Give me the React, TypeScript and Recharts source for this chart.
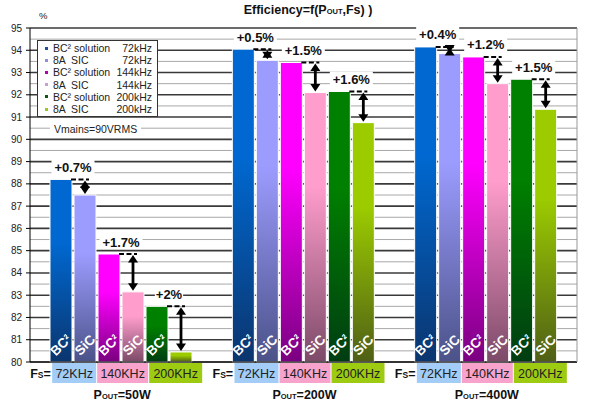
import { Bar, BarChart, CartesianGrid, Customized, LabelList, Legend, XAxis, YAxis } from 'recharts';

const FONT = 'Arial, "Liberation Sans", sans-serif';

// values
const powers = ['50W', '200W', '400W'];
const freqTags = ['72KHz', '140KHz', '200KHz'];
const freqColors = ['#a3cdf6', '#f7a3cc', '#9ccb12'];
const bc72 = [88.2, 94.05, 94.15];
const sic72 = [87.5, 93.55, 93.85];
const bc144 = [84.85, 93.45, 93.7];
const sic144 = [83.15, 92.1, 92.5];
const bc200 = [82.5, 92.15, 92.7];
const sic200 = [80.45, 90.75, 91.35];
const gain72 = ['+0.7%', '+0.5%', '+0.4%'];
const gain144 = ['+1.7%', '+1.5%', '+1.2%'];
const gain200 = ['+2%', '+1.6%', '+1.5%'];
const yTicks = [80, 80.5, 81, 81.5, 82, 82.5, 83, 83.5, 84, 84.5, 85, 85.5, 86, 86.5, 87, 87.5, 88, 88.5, 89, 89.5, 90, 90.5, 91, 91.5, 92, 92.5, 93, 93.5, 94, 94.5, 95];

type Series = {
  key: string;
  name: string;
  freq: string;
  tag: string;
  top: string;
  bottom: string;
  marker: string;
  refValues?: number[];
  gains?: string[];
};

const SERIES: Series[] = [
  { key: 'bc72', name: 'BC² solution', freq: '72kHz', tag: 'BC²', top: '#0068d0', bottom: '#0b356e', marker: '#1f4fa0' },
  { key: 'sic72', name: '8A  SIC', freq: '72kHz', tag: 'SiC', top: '#9c9cff', bottom: '#4b5288', marker: '#8f8fd8', refValues: bc72, gains: gain72 },
  { key: 'bc144', name: 'BC² solution', freq: '144kHz', tag: 'BC²', top: '#ff00ff', bottom: '#7a0080', marker: '#b000b0' },
  { key: 'sic144', name: '8A  SIC', freq: '144kHz', tag: 'SiC', top: '#ff9dcc', bottom: '#7c4a68', marker: '#c8a0d0', refValues: bc144, gains: gain144 },
  { key: 'bc200', name: 'BC² solution', freq: '200kHz', tag: 'BC²', top: '#008000', bottom: '#003d12', marker: '#0a5a0a' },
  { key: 'sic200', name: '8A  SIC', freq: '200kHz', tag: 'SiC', top: '#9ccc00', bottom: '#4f5f16', marker: '#9ac820', refValues: bc200, gains: gain200 },
];

const data = powers.map((p, i) => ({
  name: p,
  bc72: bc72[i],
  sic72: sic72[i],
  bc144: bc144[i],
  sic144: sic144[i],
  bc200: bc200[i],
  sic200: sic200[i],
}));

function box(p: any) {
  const v = p.viewBox ?? {};
  return { x: p.x ?? v.x, y: p.y ?? v.y, width: p.width ?? v.width, height: p.height ?? v.height };
}

function BarTag(props: any) {
  const { x, y, width, height } = box(props);
  const cx = x + width / 2;
  const ty = y + height - 17;
  const id = `clip-${props.sid}-${props.index}`;
  return (
    <g>
      <defs>
        <clipPath id={id}>
          <rect x={x} y={y} width={width} height={height} />
        </clipPath>
      </defs>
      <text
        clipPath={`url(#${id})`}
        x={cx}
        y={ty}
        transform={`rotate(-45 ${cx} ${ty})`}
        textAnchor="middle"
        dominantBaseline="central"
        fill="#fff"
        fontFamily={FONT}
        fontSize={13.5}
        fontWeight="bold"
      >
        {props.tag}
      </text>
    </g>
  );
}

function Gain(props: any) {
  const { x, y, width, height } = box(props);
  const value = Number(props.value);
  const bottom = y + height;
  const ppu = height / (value - 80);
  const yRef = bottom - (props.refValues[props.index] - 80) * ppu;
  const cx = x + width / 2;
  const text = props.gains[props.index];
  const tw = text.length * 7.4 + 6;
  const lx = x - 1;
  const ly = yRef - 12;
  return (
    <g>
      <rect x={lx - tw / 2} y={ly - 8} width={tw} height={15} fill="#fff" />
      <text x={lx} y={ly + 4.5} textAnchor="middle" fontFamily={FONT} fontSize={13} fontWeight="bold" fill="#111">
        {text}
      </text>
      <line x1={x - 3} x2={cx + 4} y1={yRef} y2={yRef} stroke="#000" strokeWidth={2} strokeDasharray="5 2.5" />
      <line x1={cx} x2={cx} y1={yRef + 5} y2={y - 5} stroke="#000" strokeWidth={2.8} />
      <polygon points={`${cx},${yRef + 1} ${cx - 5},${yRef + 8.5} ${cx + 5},${yRef + 8.5}`} fill="#000" />
      <polygon points={`${cx},${y - 1} ${cx - 5},${y - 8.5} ${cx + 5},${y - 8.5}`} fill="#000" />
    </g>
  );
}

function YTick({ x, y, payload }: any) {
  if (payload.value % 1 !== 0) return <g />;
  return (
    <g>
      <line x1={x - 4} x2={x} y1={y} y2={y} stroke="#000" />
      <text x={x - 8} y={y + 3.5} textAnchor="end" fontFamily={FONT} fontSize={10} fill="#222">
        {payload.value}
      </text>
    </g>
  );
}

function XTick({ x, y, payload }: any) {
  const spans = [
    [-69, 44],
    [-24, 51],
    [28, 53],
  ];
  return (
    <g fontFamily={FONT}>
      <text x={x - 91} y={y + 16} fontSize={12.5} fontWeight="bold" fill="#111">
        F<tspan fontSize={8.5}>S</tspan>=
      </text>
      {spans.map(([dx, w], i) => (
        <g key={freqTags[i]}>
          <rect x={x + dx} y={y + 1} width={w} height={20} fill={freqColors[i]} />
          <text x={x + dx + w / 2} y={y + 16} textAnchor="middle" fontSize={12.5} fill="#222">
            {freqTags[i]}
          </text>
        </g>
      ))}
      <text x={x + 1} y={y + 37} textAnchor="middle" fontSize={12.5} fontWeight="bold" fill="#111">
        P<tspan fontSize={7.5}>OUT</tspan>={payload.value}
      </text>
    </g>
  );
}

function GridLine(props: any) {
  const major = props.index % 2 === 0;
  return (
    <line
      x1={props.x1}
      x2={props.x2}
      y1={props.y1}
      y2={props.y2}
      stroke={major ? '#3a3a3a' : '#a8a8a8'}
      strokeWidth={major ? 1.6 : 1}
    />
  );
}

function LegendBox() {
  return (
    <div style={{ position: 'relative', fontFamily: FONT, fontSize: 10.5, color: '#222', lineHeight: '12px' }}>
      <div style={{ position: 'relative', width: 119, height: 75, border: '1px solid #333', background: '#fff' }}>
        {SERIES.map((s, i) => (
          <div
            key={s.key}
            style={{ position: 'absolute', left: 7, top: 1 + i * 12.2, width: 107, height: 12, display: 'flex', alignItems: 'center', whiteSpace: 'pre' }}
          >
            <span style={{ width: 3, height: 3, background: s.marker, marginRight: 5, flex: 'none' }} />
            <span>{s.name}</span>
            <span style={{ marginLeft: 'auto' }}>{s.freq}</span>
          </div>
        ))}
      </div>
      <div style={{ position: 'absolute', left: 13, top: 83, background: '#fff', padding: '0 4px' }}>Vmains=90VRMS</div>
    </div>
  );
}

function Title() {
  return (
    <g fontFamily={FONT}>
      <text x={308} y={14} textAnchor="middle" fontSize={12.5} fontWeight="bold" fill="#111">
        Efficiency=f(P<tspan fontSize={7.5}>OUT</tspan>,Fs) )
      </text>
      <text x={39} y={19} fontSize={9.5} fill="#222">
        %
      </text>
    </g>
  );
}

export default function App() {
  return (
    <div style={{ position: 'absolute', left: 0, top: 0, width: 594, height: 407, background: '#fff' }}>
      <BarChart width={594} height={407} data={data} margin={{ top: 28, right: 0, bottom: 0, left: 0 }} barCategoryGap={20} barGap={2}>
        <defs>
          {SERIES.map((s) => (
            <linearGradient key={s.key} id={`g-${s.key}`} x1="0" y1="0" x2="0" y2="1">
              <stop offset="0%" stopColor={s.top} />
              <stop offset="35%" stopColor={s.top} />
              <stop offset="100%" stopColor={s.bottom} />
            </linearGradient>
          ))}
        </defs>
        <CartesianGrid vertical={false} horizontal={(p: any) => <GridLine {...p} />} />
        <XAxis dataKey="name" height={45} interval={0} tickLine={false} tickSize={0} tickMargin={0} axisLine={{ stroke: '#000' }} tick={<XTick />} />
        <YAxis
          width={30}
          domain={[80, 95]}
          ticks={yTicks}
          interval={0}
          tickLine={false}
          tickSize={0}
          tickMargin={0}
          axisLine={{ stroke: '#000' }}
          tick={<YTick />}
        />
        <YAxis yAxisId="right" orientation="right" width={17} domain={[80, 95]} tick={false} tickLine={false} axisLine={{ stroke: '#999' }} />
        <Legend layout="horizontal" align="center" verticalAlign="middle" wrapperStyle={{ left: 37, top: 40, width: 121, height: 77 }} content={() => <LegendBox />} />
        {SERIES.map((s) => (
          <Bar key={s.key} dataKey={s.key} name={s.name} fill={`url(#g-${s.key})`} stroke="#fff" strokeWidth={1} isAnimationActive={false}>
            <LabelList dataKey={s.key} content={(p: any) => <BarTag {...p} tag={s.tag} sid={s.key} />} />
            {s.refValues ? <LabelList dataKey={s.key} content={(p: any) => <Gain {...p} refValues={s.refValues} gains={s.gains} />} /> : null}
          </Bar>
        ))}
        <Customized component={<Title />} />
      </BarChart>
    </div>
  );
}
